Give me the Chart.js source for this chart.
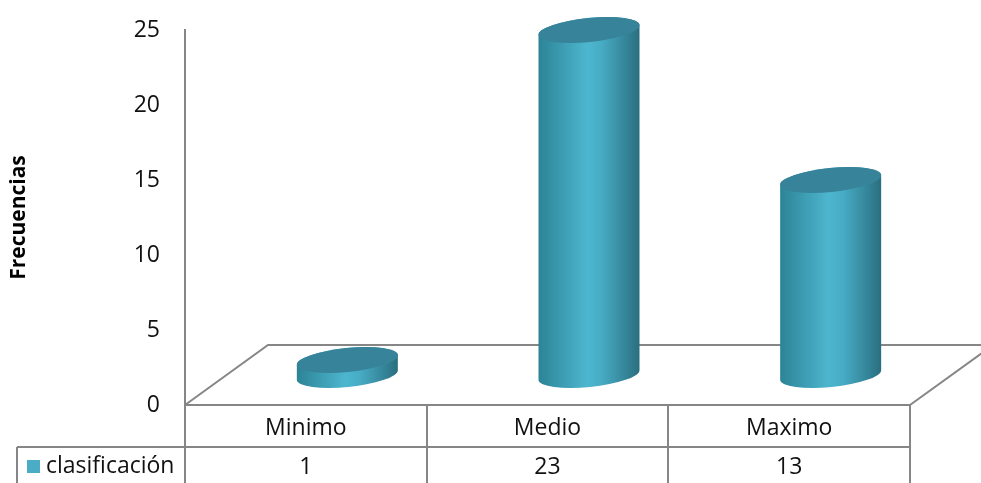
<!DOCTYPE html>
<html>
<head>
<meta charset="utf-8">
<script src="https://cdn.jsdelivr.net/npm/chart.js@4.4.1/dist/chart.umd.min.js"></script>
<style>
  html, body { margin: 0; padding: 0; background: #fff; }
  canvas { display: block; }
</style>
</head>
<body>
<canvas id="myChart" width="981" height="483"></canvas>
<script>
// datos del grafico
const categories = ['Minimo', 'Medio', 'Maximo'];
const seriesName = 'clasificación';
const values = [1, 23, 13];
const yTicks = [0, 5, 10, 15, 20, 25];
const axisTitle = 'Frecuencias';

const FONT = "'Open Sans', sans-serif";
const LINE = '#868686';
const TEXT = '#111';
const DEPTH_X = 83;   // profundidad del piso 3D
const DEPTH_Y = 60;

function drawCylinder(ctx, cx, baseY, topY, rx, ry) {
  const rot = -0.1;
  const c = Math.cos(rot), s = Math.sin(rot);
  const g = ctx.createLinearGradient(cx - rx, 0, cx + rx, 0);
  g.addColorStop(0, '#2c8396');
  g.addColorStop(0.48, '#4db6cf');
  g.addColorStop(0.62, '#47acc5');
  g.addColorStop(1, '#2a6e7f');
  ctx.beginPath();
  ctx.ellipse(cx, baseY, rx, ry, rot, 0, Math.PI);
  ctx.lineTo(cx - rx * c, topY - rx * s);
  ctx.ellipse(cx, topY, rx, ry, rot, Math.PI, 2 * Math.PI);
  ctx.closePath();
  ctx.fillStyle = g;
  ctx.fill();
  // tapa superior
  ctx.beginPath();
  ctx.ellipse(cx, topY, rx, ry, rot, 0, 2 * Math.PI);
  ctx.fillStyle = '#37839a';
  ctx.fill();
}

const cylinders = {
  id: 'cylinders',
  beforeDatasetsDraw(chart) {
    const { ctx, chartArea } = chart;
    const l = chartArea.left, r = chartArea.right, b = chartArea.bottom;
    ctx.save();
    ctx.strokeStyle = LINE;
    ctx.lineWidth = 2;
    ctx.beginPath();
    ctx.moveTo(l, b);
    ctx.lineTo(l + DEPTH_X, b - DEPTH_Y);
    ctx.lineTo(r + DEPTH_X, b - DEPTH_Y);
    ctx.moveTo(r, b);
    ctx.lineTo(r + DEPTH_X, b - DEPTH_Y);
    ctx.stroke();
    ctx.restore();
  },
  afterDatasetsDraw(chart) {
    const { ctx } = chart;
    const meta = chart.getDatasetMeta(0);
    ctx.save();
    meta.data.forEach(bar => {
      const h = bar.base - bar.y;
      const cx = bar.x + DEPTH_X / 2;
      const baseY = bar.base - DEPTH_Y / 2;
      drawCylinder(ctx, cx, baseY, baseY - h, bar.width / 2, 12);
    });
    ctx.restore();
  },
  afterDraw(chart) {
    // tabla de datos
    const { ctx, chartArea } = chart;
    const xs = chart.scales.x;
    const l = chartArea.left, r = chartArea.right, b = chartArea.bottom;
    const rowH = 42;
    const H = chart.height;
    const colW = (r - l) / categories.length;
    ctx.save();
    ctx.strokeStyle = LINE;
    ctx.lineWidth = 2;
    ctx.beginPath();
    ctx.moveTo(l, b); ctx.lineTo(r, b);
    for (let i = 0; i <= categories.length; i++) {
      const x = Math.round(l + colW * i);
      ctx.moveTo(x, b); ctx.lineTo(x, H);
    }
    ctx.moveTo(17, b + rowH); ctx.lineTo(r, b + rowH);
    ctx.moveTo(17, b + rowH); ctx.lineTo(17, H);
    ctx.stroke();

    ctx.fillStyle = TEXT;
    ctx.font = '23px ' + FONT;
    ctx.textAlign = 'center';
    ctx.textBaseline = 'middle';
    categories.forEach((c, i) => {
      const x = xs.getPixelForValue(i);
      ctx.fillText(c, x, b + 23);
      ctx.fillText(String(values[i]), x, b + 62);
    });
    ctx.fillStyle = '#4bacc6';
    ctx.fillRect(27, b + 55, 13, 13);
    ctx.fillStyle = TEXT;
    ctx.textAlign = 'left';
    ctx.fillText(seriesName, 46, b + 61);
    ctx.restore();
  }
};

const ctx = document.getElementById('myChart');
const chart = new Chart(ctx, {
  type: 'bar',
  data: {
    labels: categories,
    datasets: [{
      label: seriesName,
      data: values,
      backgroundColor: 'rgba(0,0,0,0)',
      categoryPercentage: 1,
      barPercentage: 0.42
    }]
  },
  options: {
    responsive: false,
    animation: false,
    layout: { padding: { left: 0, right: 71, top: 30, bottom: 78 } },
    plugins: {
      legend: { display: false },
      tooltip: { enabled: false }
    },
    scales: {
      x: { display: false, offset: true },
      y: {
        min: 0,
        max: 25,
        afterBuildTicks(scale) {
          scale.ticks = yTicks.map(v => ({ value: v }));
        },
        afterFit(scale) {
          scale.width = 185;
          scale.paddingTop = 0;
          scale.paddingBottom = 0;
        },
        grid: { display: false, drawTicks: false },
        border: { display: true, color: LINE, width: 2 },
        ticks: { padding: 25, color: TEXT, font: { family: FONT, size: 23 } },
        title: {
          display: true,
          text: axisTitle,
          color: '#000',
          padding: { top: 6, bottom: 0 },
          font: { family: FONT, size: 21, weight: 'bold' }
        }
      }
    }
  },
  plugins: [cylinders]
});
</script>
</body>
</html>
